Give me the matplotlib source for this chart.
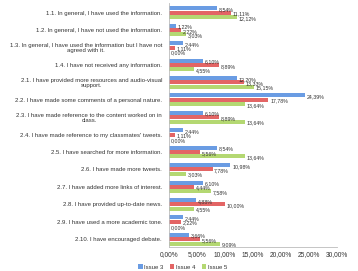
import matplotlib
matplotlib.use("Agg")
import matplotlib.pyplot as plt
import numpy as np

plt.rcParams["font.family"] = ["Liberation Sans", "DejaVu Sans"]

categories = [
    "1.1. In general, I have used the information.",
    "1.2. In general, I have not used the information.",
    "1.3. In general, I have used the information but I have not\nagreed with it.",
    "1.4. I have not received any information.",
    "2.1. I have provided more resources and audio-visual\nsupport.",
    "2.2. I have made some comments of a personal nature.",
    "2.3. I have made reference to the content worked on in\nclass.",
    "2.4. I have made reference to my classmates' tweets.",
    "2.5. I have searched for more information.",
    "2.6. I have made more tweets.",
    "2.7. I have added more links of interest.",
    "2.8. I have provided up-to-date news.",
    "2.9. I have used a more academic tone.",
    "2.10. I have encouraged debate.",
]
issue3 = [8.54, 1.22, 2.44, 6.10, 12.20, 24.39, 6.10, 2.44, 8.54, 10.98, 6.10, 4.88, 2.44, 3.66]
issue4 = [11.11, 2.22, 1.11, 8.89, 13.33, 17.78, 8.89, 1.11, 5.56, 7.78, 4.44, 10.00, 2.22, 5.56]
issue5 = [12.12, 3.03, 0.00, 4.55, 15.15, 13.64, 13.64, 0.00, 13.64, 3.03, 7.58, 4.55, 0.00, 9.09]
series_names = ["Issue 3", "Issue 4", "Issue 5"]
xticks = [0, 5, 10, 15, 20, 25, 30]

colors = ["#6a9ce3", "#e36565", "#b4d872"]

fig = plt.figure(figsize=(3.58, 2.71), dpi=100)
ax = fig.add_axes([0.472, 0.0886, 0.469, 0.9])

y = np.arange(len(categories))
h = 0.25
for k, (vals, name, c) in enumerate(zip([issue3, issue4, issue5], series_names, colors)):
    pos = y + (k - 1) * h
    ax.barh(pos, vals, height=h * 0.92, color=c, label=name, edgecolor="none")
    for p, v in zip(pos, vals):
        ax.text(v + 0.3, p + 0.08, f"{v:.2f}%".replace(".", ","), fontsize=3.8,
                color="#333333", va="center", ha="left")

ax.set_ylim(len(categories) - 0.55, -0.55)
ax.set_xlim(0, 30)
ax.set_yticks(y)
ax.set_yticklabels(categories, fontsize=4.3, color="#333333", ha="right",
                   multialignment="center", linespacing=1.1)
ax.set_xticks(xticks)
ax.set_xticklabels([f"{t:.2f}%".replace(".", ",") for t in xticks], fontsize=4.8, color="#333333")
ax.tick_params(axis="both", length=0, pad=3)
ax.tick_params(axis="y", pad=5)
for s in ["top", "right"]:
    ax.spines[s].set_visible(False)
ax.spines["left"].set_color("#bbbbbb")
ax.spines["bottom"].set_color("#bbbbbb")
ax.spines["left"].set_linewidth(0.6)
ax.spines["bottom"].set_linewidth(0.6)

fig.legend(loc="lower center", bbox_to_anchor=(0.51, -0.015), ncol=3, frameon=False,
           fontsize=4.3, handlelength=0.8, handleheight=0.8, handletextpad=0.3,
           columnspacing=1.0, labelcolor="#333333")

fig.savefig("out.png", dpi=100)
